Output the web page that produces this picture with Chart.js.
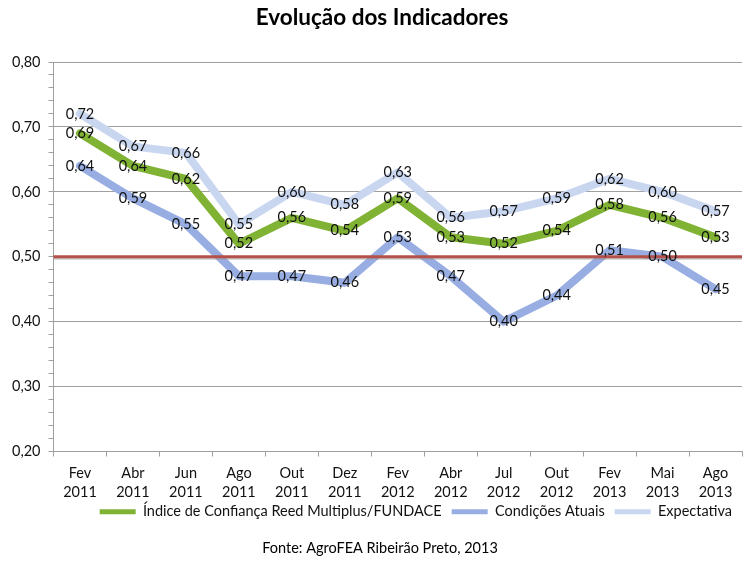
<!DOCTYPE html>
<html>
<head>
<meta charset="utf-8">
<script src="https://cdn.jsdelivr.net/npm/chart.js@4"></script>
<style>
  html, body { margin: 0; padding: 0; background: #fff; }
  #wrap { width: 750px; height: 565px; }
</style>
</head>
<body>
<div id="wrap"><canvas id="indicadores"></canvas></div>
<script>
// Chart data
const periodos = [
  ['Fev', '2011'], ['Abr', '2011'], ['Jun', '2011'], ['Ago', '2011'], ['Out', '2011'],
  ['Dez', '2011'], ['Fev', '2012'], ['Abr', '2012'], ['Jul', '2012'], ['Out', '2012'],
  ['Fev', '2013'], ['Mai', '2013'], ['Ago', '2013']
];
const indiceConfianca = [0.69, 0.64, 0.62, 0.52, 0.56, 0.54, 0.59, 0.53, 0.52, 0.54, 0.58, 0.56, 0.53];
const condicoesAtuais = [0.64, 0.59, 0.55, 0.47, 0.47, 0.46, 0.53, 0.47, 0.40, 0.44, 0.51, 0.50, 0.45];
const expectativa = [0.72, 0.67, 0.66, 0.55, 0.60, 0.58, 0.63, 0.56, 0.57, 0.59, 0.62, 0.60, 0.57];
const linhaReferencia = 0.50;
const yMin = 0.20;
const yMax = 0.80;

const fonte = 'Lato, "Noto Sans", sans-serif';

function fmt(v) {
  return v.toFixed(2).replace('.', ',');
}
function isMajor(v) {
  return Math.abs(v * 10 - Math.round(v * 10)) < 1e-6;
}

// Title, red reference line, value labels and source note
const extras = {
  id: 'extras',
  afterLayout(chart) {
    // x labels are shrunk to let the legend sit close; don't clip the second line
    chart.scales.x.bottom = chart.scales.x.top + 60;
  },
  afterDatasetsDraw(chart) {
    const ctx = chart.ctx;
    const area = chart.chartArea;
    const y = chart.scales.y.getPixelForValue(linhaReferencia);

    ctx.save();
    ctx.strokeStyle = 'rgba(150,150,150,0.5)';
    ctx.lineWidth = 2;
    ctx.beginPath();
    ctx.moveTo(area.left, y + 2);
    ctx.lineTo(area.right, y + 2);
    ctx.stroke();
    ctx.strokeStyle = '#b5504a';
    ctx.lineWidth = 3;
    ctx.beginPath();
    ctx.moveTo(area.left, y);
    ctx.lineTo(area.right, y);
    ctx.stroke();

    // value labels
    ctx.font = '14.5px ' + fonte;
    ctx.fillStyle = '#111';
    ctx.textAlign = 'center';
    ctx.textBaseline = 'middle';
    chart.data.datasets.forEach((ds, i) => {
      const meta = chart.getDatasetMeta(i);
      meta.data.forEach((pt, j) => {
        ctx.fillText(fmt(ds.data[j]), pt.x, pt.y);
      });
    });
    ctx.restore();
  },
  afterDraw(chart) {
    const ctx = chart.ctx;
    ctx.save();
    ctx.fillStyle = '#000';
    ctx.textAlign = 'center';
    ctx.textBaseline = 'middle';
    ctx.font = 'bold 22.5px ' + fonte;
    ctx.fillText('Evolução dos Indicadores', 382, 18);
    ctx.font = '14.5px ' + fonte;
    ctx.fillText('Fonte: AgroFEA Ribeirão Preto, 2013', 380, 548);
    ctx.restore();
  }
};

const chart = new Chart('indicadores', {
  type: 'line',
  data: {
    labels: periodos,
    datasets: [
      {
        label: 'Índice de Confiança Reed Multiplus/FUNDACE',
        data: indiceConfianca,
        borderColor: '#80b234',
        backgroundColor: '#80b234'
      },
      {
        label: 'Condições Atuais',
        data: condicoesAtuais,
        borderColor: '#98aee3',
        backgroundColor: '#98aee3'
      },
      {
        label: 'Expectativa',
        data: expectativa,
        borderColor: '#c9d6f0',
        backgroundColor: '#c9d6f0'
      }
    ]
  },
  options: {
    responsive: true,
    maintainAspectRatio: false,
    animation: false,
    layout: { padding: { top: 62, left: 4, right: 8, bottom: 36 } },
    elements: {
      line: { borderWidth: 8, tension: 0, borderCapStyle: 'round', borderJoinStyle: 'round' },
      point: { radius: 0, hoverRadius: 0 }
    },
    scales: {
      x: {
        offset: true,
        afterFit: scale => { scale.height = 43; },
        grid: { drawOnChartArea: false, tickLength: 5, color: '#a0a0a0', offset: true },
        border: { color: '#a0a0a0' },
        ticks: {
          color: '#111',
          font: { family: fonte, size: 14.5, lineHeight: 1.33 },
          padding: 7,
          maxRotation: 0,
          autoSkip: false
        }
      },
      y: {
        min: yMin,
        max: yMax,
        grid: {
          tickLength: 5,
          tickColor: '#a0a0a0',
          color: c => isMajor(c.tick.value) ? '#a0a0a0' : 'rgba(0,0,0,0)'
        },
        border: { color: '#a0a0a0' },
        ticks: {
          stepSize: 0.02,
          maxTicksLimit: 40,
          autoSkip: false,
          color: '#111',
          padding: 8,
          font: { family: fonte, size: 14.5 },
          callback: v => isMajor(v) ? fmt(v) : ''
        }
      }
    },
    plugins: {
      legend: {
        position: 'bottom',
        align: 'end',
        labels: {
          color: '#111',
          font: { family: fonte, size: 14.5 },
          boxWidth: 36,
          boxHeight: 5,
          padding: 10,
          generateLabels: ch => ch.data.datasets.map((ds, i) => ({
            text: ds.label,
            fillStyle: ds.borderColor,
            strokeStyle: ds.borderColor,
            lineWidth: 0,
            datasetIndex: i,
            fontColor: '#111'
          }))
        }
      },
      tooltip: { enabled: false }
    }
  },
  plugins: [extras]
});
</script>
</body>
</html>
